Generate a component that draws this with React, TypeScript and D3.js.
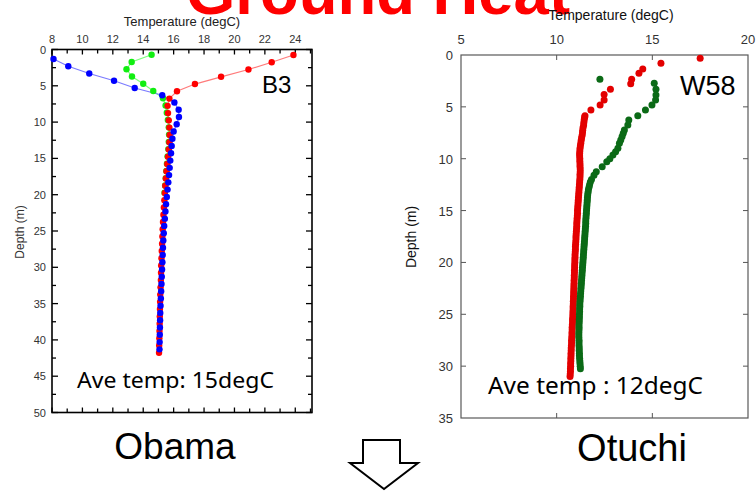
import React from 'react';
import * as d3 from 'd3';

// ---------- Obama (B3) ----------
const obamaXTicks = [8, 10, 12, 14, 16, 18, 20, 22, 24];
const obamaYTicks = [0, 5, 10, 15, 20, 25, 30, 35, 40, 45, 50];
const obamaBlueDepth = [1.3, 2.3, 3.3, 4.3, 5.3, 6.3, 7.3, 8.3, 9.3, 10.3, 11.3, 12.3, 13.3, 14.3, 15.3, 16.3, 17.3, 18.3, 19.3, 20.3, 21.3, 22.3, 23.3, 24.3, 25.3, 26.3, 27.3, 28.3, 29.3, 30.3, 31.3, 32.3, 33.3, 34.3, 35.3, 36.3, 37.3, 38.3, 39.3, 40.3, 41.3];
const obamaBlueTemp = [8.1, 9.07, 10.45, 12.08, 13.44, 15.25, 16.05, 16.33, 16.35, 16.2, 16.0, 15.92, 15.87, 15.83, 15.78, 15.74, 15.7, 15.65, 15.6, 15.55, 15.5, 15.46, 15.42, 15.38, 15.35, 15.32, 15.3, 15.28, 15.26, 15.24, 15.22, 15.2, 15.18, 15.16, 15.14, 15.12, 15.11, 15.1, 15.09, 15.08, 15.07];
const obamaRedDepth = [0.76, 1.76, 2.76, 3.76, 4.76, 5.76, 6.76, 7.76, 8.76, 9.76, 10.76, 11.76, 12.76, 13.76, 14.76, 15.76, 16.76, 17.76, 18.76, 19.76, 20.76, 21.76, 22.76, 23.76, 24.76, 25.76, 26.76, 27.76, 28.76, 29.76, 30.76, 31.76, 32.76, 33.76, 34.76, 35.76, 36.76, 37.76, 38.76, 39.76, 40.76, 41.76];
const obamaRedTemp = [23.88, 22.45, 20.92, 19.12, 17.4, 16.22, 15.72, 15.6, 15.63, 15.68, 15.72, 15.74, 15.72, 15.68, 15.63, 15.58, 15.53, 15.49, 15.45, 15.42, 15.39, 15.36, 15.33, 15.3, 15.28, 15.26, 15.24, 15.22, 15.2, 15.18, 15.17, 15.16, 15.14, 15.12, 15.11, 15.1, 15.09, 15.08, 15.07, 15.06, 15.05, 15.04];
const obamaGreenDepth = [0.72, 1.72, 2.72, 3.72, 4.72, 5.72, 6.72, 7.72, 8.72, 9.72, 10.72, 11.72, 12.72, 13.72, 14.72, 15.72, 16.72, 17.72, 18.72, 19.72];
const obamaGreenTemp = [14.55, 13.24, 12.9, 13.26, 14.0, 14.66, 15.3, 15.47, 15.55, 15.62, 15.68, 15.7, 15.68, 15.65, 15.6, 15.56, 15.52, 15.48, 15.44, 15.4];

// ---------- Otuchi (W58) ----------
const otuchiXTicks = [5, 10, 15, 20];
const otuchiYTicks = [0, 5, 10, 15, 20, 25, 30, 35];
const otuchiRedTopDepth = [0.32, 0.8, 1.35, 1.77, 2.34, 2.77, 3.31, 3.8, 4.34, 4.82, 5.3, 5.85];
const otuchiRedTopTemp = [17.5, 15.45, 14.5, 14.3, 13.92, 13.87, 12.81, 12.48, 12.48, 12.27, 11.79, 11.48];
const otuchiRedDeepStart = 6.0;
const otuchiRedDeepStep = 0.25;
const otuchiRedDeepTemp = [
  11.46, 11.44, 11.42, 11.41, 11.38, 11.36, 11.35, 11.33, 11.3, 11.28, 11.26, 11.24,
  11.22, 11.21, 11.2, 11.2, 11.21, 11.21, 11.22, 11.22, 11.23, 11.23, 11.22, 11.22,
  11.21, 11.2, 11.19, 11.18, 11.17, 11.16, 11.15, 11.14, 11.13, 11.12, 11.11, 11.1,
  11.09, 11.09, 11.08, 11.07, 11.06, 11.05, 11.05, 11.04, 11.03, 11.02, 11.01, 11.01,
  11.0, 10.99, 10.98, 10.98, 10.97, 10.96, 10.96, 10.95, 10.95, 10.94, 10.94, 10.93,
  10.93, 10.92, 10.92, 10.91, 10.91, 10.9, 10.9, 10.89, 10.89, 10.88, 10.88, 10.87,
  10.87, 10.86, 10.86, 10.85, 10.85, 10.84, 10.83, 10.83, 10.82, 10.81, 10.81, 10.8,
  10.8, 10.79, 10.78, 10.78, 10.77, 10.76, 10.76, 10.75, 10.75, 10.74, 10.74, 10.73,
  10.73, 10.72, 10.72, 10.71, 10.7
];
const otuchiGreenTopDepth = [2.34, 2.73, 3.31, 3.85, 4.34, 4.82, 5.3, 5.85, 6.27, 6.75, 7.23, 7.55, 7.87, 8.2, 8.52, 9.0, 9.32, 9.64, 10.0, 10.29, 10.77, 11.25, 11.6];
const otuchiGreenTopTemp = [12.26, 15.1, 15.19, 15.19, 15.17, 14.98, 14.64, 14.24, 13.77, 13.72, 13.54, 13.48, 13.42, 13.35, 13.28, 13.2, 13.08, 12.94, 12.78, 12.62, 12.38, 12.07, 11.95];
const otuchiGreenDeepStart = 12.0;
const otuchiGreenDeepStep = 0.25;
const otuchiGreenDeepTemp = [
  11.82, 11.76, 11.72, 11.69, 11.66, 11.64, 11.62, 11.61, 11.6, 11.59, 11.58, 11.57,
  11.56, 11.55, 11.54, 11.53, 11.52, 11.52, 11.51, 11.5, 11.49, 11.48, 11.47, 11.46,
  11.45, 11.44, 11.43, 11.42, 11.41, 11.4, 11.39, 11.38, 11.37, 11.36, 11.35, 11.34,
  11.33, 11.32, 11.31, 11.3, 11.29, 11.28, 11.27, 11.26, 11.25, 11.24, 11.23, 11.22,
  11.21, 11.21, 11.2, 11.2, 11.19, 11.19, 11.18, 11.18, 11.17, 11.17, 11.17, 11.16,
  11.16, 11.16, 11.17, 11.17, 11.17, 11.18, 11.18, 11.19, 11.19, 11.2, 11.21, 11.22,
  11.23, 11.24
];

const SANS = 'Liberation Sans, Arial, sans-serif';

export default function App() {
  // Obama scales
  const lx = d3.scaleLinear().domain([8, 25.1]).range([52, 312]);
  const ly = d3.scaleLinear().domain([0, 50]).range([49.5, 412.5]);
  // Otuchi scales
  const rx = d3.scaleLinear().domain([5, 20]).range([461, 748]);
  const ry = d3.scaleLinear().domain([0, 35]).range([55, 418]);

  const pts = (t: number[], d: number[]) => t.map((v, i) => [v, d[i]] as [number, number]);
  const lineL = d3.line<[number, number]>().x(p => lx(p[0])).y(p => ly(p[1]));

  const blue = pts(obamaBlueTemp, obamaBlueDepth);
  const red = pts(obamaRedTemp, obamaRedDepth);
  const green = pts(obamaGreenTemp, obamaGreenDepth);

  const rRed = [
    ...pts(otuchiRedTopTemp, otuchiRedTopDepth),
    ...otuchiRedDeepTemp.map((t, i) => [t, otuchiRedDeepStart + i * otuchiRedDeepStep] as [number, number]),
  ];
  const rGreen = [
    ...pts(otuchiGreenTopTemp, otuchiGreenTopDepth),
    ...otuchiGreenDeepTemp.map((t, i) => [t, otuchiGreenDeepStart + i * otuchiGreenDeepStep] as [number, number]),
  ];

  const lMinorX = d3.range(8, 25.01, 1);
  const lMinorY = d3.range(0, 50.01, 2.5);
  const rMinorY = d3.range(0, 35.01, 5);

  const [lx0, lx1] = lx.range();
  const [ly0, ly1] = ly.range();
  const [rx0, rx1] = rx.range();
  const [ry0, ry1] = ry.range();

  return (
    <svg width={756} height={491} style={{ position: 'absolute', left: 0, top: 0, background: '#fff' }}>
      <rect x={0} y={0} width={756} height={491} fill="#fff" />
      {/* Big title, mostly cropped */}
      <text x={186} y={14} fontFamily={SANS} fontWeight="bold" fontSize={63} fill="#ff0000" textLength={384} lengthAdjust="spacingAndGlyphs">Ground Heat</text>

      {/* ---------- Obama chart ---------- */}
      <text x={182} y={26} textAnchor="middle" fontFamily={SANS} fontSize={13} fill="#222">Temperature (degC)</text>
      <text transform={`translate(24,232) rotate(-90)`} textAnchor="middle" fontFamily={SANS} fontSize={12} fill="#333">Depth (m)</text>
      {obamaXTicks.map(t => (
        <text key={'lxt' + t} x={lx(t)} y={43} textAnchor="middle" fontFamily={SANS} fontSize={11} fill="#333">{t}</text>
      ))}
      {obamaYTicks.map(t => (
        <text key={'lyt' + t} x={46} y={ly(t) + 4} textAnchor="end" fontFamily={SANS} fontSize={11} fill="#333">{t}</text>
      ))}
      {lMinorX.map(t => {
        const len = t % 2 === 0 ? 5 : 4;
        return (
          <g key={'lmx' + t}>
            <line x1={lx(t)} x2={lx(t)} y1={ly0} y2={ly0 + len} stroke="#000" strokeWidth={1.3} />
            <line x1={lx(t)} x2={lx(t)} y1={ly1} y2={ly1 - len} stroke="#000" strokeWidth={1.3} />
          </g>
        );
      })}
      {lMinorY.map(t => {
        const len = t % 5 === 0 ? 6 : 4;
        return (
          <g key={'lmy' + t}>
            <line x1={lx0} x2={lx0 + len} y1={ly(t)} y2={ly(t)} stroke="#000" strokeWidth={1.3} />
            <line x1={lx1} x2={lx1 - len} y1={ly(t)} y2={ly(t)} stroke="#000" strokeWidth={1.3} />
          </g>
        );
      })}
      <rect x={lx0} y={ly0} width={lx1 - lx0} height={ly1 - ly0} fill="none" stroke="#000" strokeWidth={1.6} />

      <path d={lineL(green) || ''} fill="none" stroke="#7dff7d" strokeWidth={1.2} />
      <path d={lineL(red) || ''} fill="none" stroke="#ff7b7b" strokeWidth={1.2} />
      <path d={lineL(blue) || ''} fill="none" stroke="#7b7bff" strokeWidth={1.2} />
      {green.map((p, i) => <circle key={'g' + i} cx={lx(p[0])} cy={ly(p[1])} r={3.2} fill="#11ee11" />)}
      {red.map((p, i) => <circle key={'r' + i} cx={lx(p[0])} cy={ly(p[1])} r={3.2} fill="#ff0000" />)}
      {blue.map((p, i) => <circle key={'b' + i} cx={lx(p[0])} cy={ly(p[1])} r={3.2} fill="#0000ff" />)}

      <text x={262} y={93} fontFamily={SANS} fontSize={24} fill="#000">B3</text>
      <text x={77} y={388} fontFamily="Noto Sans, Open Sans, sans-serif" fontSize={21} fill="#000" textLength={197} lengthAdjust="spacingAndGlyphs">Ave temp: 15degC</text>

      {/* ---------- Otuchi chart ---------- */}
      <text x={611} y={20} textAnchor="middle" fontFamily={SANS} fontSize={14} fill="#111">Temperature (degC)</text>
      <text transform={`translate(416,237) rotate(-90)`} textAnchor="middle" fontFamily={SANS} fontSize={14} fill="#111">Depth (m)</text>
      {otuchiXTicks.map(t => (
        <text key={'rxt' + t} x={rx(t)} y={44} textAnchor="middle" fontFamily={SANS} fontSize={13} fill="#333">{t}</text>
      ))}
      {otuchiYTicks.map(t => (
        <text key={'ryt' + t} x={453} y={ry(t) + 5} textAnchor="end" fontFamily={SANS} fontSize={13} fill="#333">{t}</text>
      ))}
      {otuchiXTicks.slice(1, -1).map(t => (
        <g key={'rmx' + t}>
          <line x1={rx(t)} x2={rx(t)} y1={ry0} y2={ry0 + 5} stroke="#555" strokeWidth={1} />
          <line x1={rx(t)} x2={rx(t)} y1={ry1} y2={ry1 - 5} stroke="#555" strokeWidth={1} />
        </g>
      ))}
      {rMinorY.slice(1, -1).map(t => (
        <g key={'rmy' + t}>
          <line x1={rx0} x2={rx0 + 5} y1={ry(t)} y2={ry(t)} stroke="#555" strokeWidth={1} />
          <line x1={rx1} x2={rx1 - 5} y1={ry(t)} y2={ry(t)} stroke="#555" strokeWidth={1} />
        </g>
      ))}
      <rect x={rx0} y={ry0} width={rx1 - rx0} height={ry1 - ry0} fill="none" stroke="#595959" strokeWidth={1.2} />

      {rRed.map((p, i) => <circle key={'rr' + i} cx={rx(p[0])} cy={ry(p[1])} r={3.5} fill="#e30000" />)}
      {rGreen.map((p, i) => <circle key={'rg' + i} cx={rx(p[0])} cy={ry(p[1])} r={3.5} fill="#0b6a16" />)}

      <text x={680} y={95} fontFamily={SANS} fontSize={27} fill="#000">W58</text>
      <text x={488} y={394} fontFamily="Noto Sans, Open Sans, sans-serif" fontSize={23} fill="#000" textLength={215} lengthAdjust="spacingAndGlyphs">Ave temp : 12degC</text>

      {/* ---------- Bottom labels ---------- */}
      <text x={175} y={459} textAnchor="middle" fontFamily={SANS} fontSize={37} fill="#000">Obama</text>
      <text x={632} y={461} textAnchor="middle" fontFamily={SANS} fontSize={38} fill="#000">Otuchi</text>
      <polygon points="363,440 400,440 400,463 418,463 384,489 350,463 363,463" fill="#fff" stroke="#000" strokeWidth={2} />
    </svg>
  );
}
